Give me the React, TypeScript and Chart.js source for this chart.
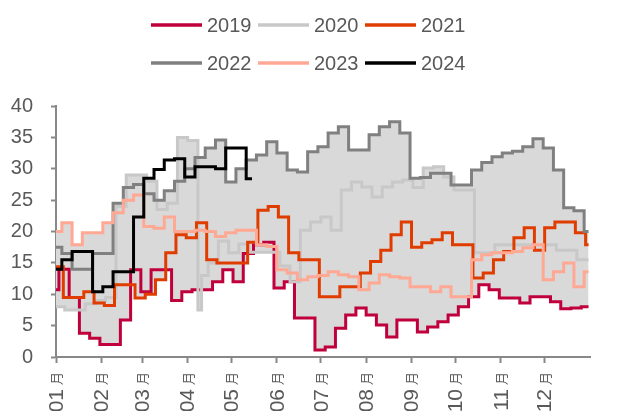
import React, { useEffect, useRef } from "react";
import { Chart, registerables } from "chart.js";

Chart.register(...registerables);

// ---------- data ----------
const years = ["2019", "2020", "2021", "2022", "2023", "2024"];
const monthLabels = ["01", "02", "03", "04", "05", "06", "07", "08", "09", "10", "11", "12"];
const monthSuffix = "月";
const monthStartDays = [0, 31, 59, 90, 120, 151, 181, 212, 243, 273, 304, 334];
const yTickValues = [0, 5, 10, 15, 20, 25, 30, 35, 40];

// weekly values (week k starts at firstDay + 7k)
const values2019 = [10.7, 14, 9.5, 3.8, 3, 2, 2, 5.9, 13.9, 10.4, 13.9, 13.9, 9, 10.4, 10.7, 10.7, 12, 13.9, 12, 16.5, 17.9, 18.3, 11, 12, 6.2, 6.2, 1.1, 1.6, 4.6, 6.7, 7.8, 6.7, 5.1, 3.2, 5.9, 5.9, 4, 4.8, 5.6, 6.7, 8, 9.6, 11.5, 10.7, 9.4, 9.4, 8.6, 9.6, 9.6, 8.8, 7.7, 7.8, 8];
const values2020 = [8, 7.5, 7.5, 8.5, 9, 9.5, 24, 29, 29, 28, 23.5, 24.5, 35, 34.5, 13, 15, 18.5, 16.6, 18, 16.7, 16.7, 16.7, 14.5, 12, 20.2, 21.5, 22.3, 20.2, 26.6, 27.9, 27.1, 25.5, 27.1, 27.9, 28.2, 27, 30.1, 30.3, 28.7, 26.6, 26.6, 16.6, 16.6, 17.9, 17.9, 17.9, 17.9, 17.9, 17.9, 17, 17, 15.5, 15.5];
const values2021 = [14.4, 9.5, 9.5, 10.4, 8.6, 8.2, 11.5, 11.5, 9.4, 10, 12.3, 16.6, 19.5, 19, 21.4, 15.5, 15, 15, 15, 18.3, 23.4, 24, 22.3, 16.6, 15.5, 15.5, 9.6, 9.6, 11.2, 11.2, 13.4, 15.2, 17, 19.5, 21.5, 17.5, 18.2, 18.7, 19.8, 17.9, 17.9, 12.6, 13.4, 15.5, 16.8, 19, 20.6, 17, 20.6, 21.5, 21.5, 19.8, 17.9];
const values2022 = [17.5, 16.5, 14, 14, 16.5, 16.5, 24.5, 27, 27.5, 26, 25, 26.5, 28, 30, 31.8, 33.3, 34.6, 27.9, 30, 31.4, 32.2, 34.3, 32.5, 29.8, 29.5, 32.7, 33.5, 35.7, 36.7, 33, 33, 35.4, 36.7, 37.5, 35.7, 28.5, 28.6, 29.3, 29.3, 27.4, 27.4, 29.8, 31, 31.9, 32.5, 32.8, 33.5, 34.8, 33.3, 29.8, 23.8, 23.3, 20];
const values2023 = [20, 21.4, 17.9, 19.8, 19.8, 21.4, 23, 25, 25.8, 20.8, 20.5, 22.3, 20, 20, 20.2, 20, 19.2, 19.8, 20.2, 20.2, 17.9, 17.6, 13.9, 13.4, 12.3, 12.8, 13, 13.6, 13.1, 12.8, 10.7, 11.8, 13.1, 12.8, 12.6, 11.2, 11.2, 10.4, 11.2, 9.6, 9.6, 15.5, 16.3, 16.6, 16.6, 16.8, 17.4, 17.9, 12.3, 13.6, 15, 11.2, 13.6];
const values2024 = [14, 15.5, 16.8, 16.8, 10.4, 11.2, 13.6, 13.6, 22.3, 28.5, 29.9, 31.4, 31.6, 28.7, 30.3, 30.3, 30, 33.3, 33.3, 28.4];

const firstDays = [-5, -1, -2, -3, -3, -3];
const extra2020 = [[97, 7.5], [99.5, 13]];
const endDay = 364;
const endDay2024 = 134;

const colors = ["#C0003C", "#C8C8C8", "#E03C00", "#808080", "#FFA894", "#000000"];
const bandColor = "#D9D9D9";
const textColor = "#595959";
const axisColor = "#888888";

// ---------- helpers ----------
type Pt = { x: number; y: number };

function buildSteps(first: number, vals: number[], end: number, extra: number[][] = []): Pt[] {
  const map = new Map<number, number>();
  vals.forEach((v, k) => map.set(Math.max(0, first + 7 * k), v));
  extra.forEach(([d, v]) => map.set(d, v));
  const days = Array.from(map.keys()).filter((d) => d < end).sort((a, b) => a - b);
  const pts = days.map((d) => ({ x: d, y: map.get(d) as number }));
  pts.push({ x: end, y: pts[pts.length - 1].y });
  return pts;
}

function valueAt(pts: Pt[], d: number): number {
  let v = pts[0].y;
  for (const p of pts) {
    if (p.x <= d) v = p.y;
    else break;
  }
  return v;
}

const allValues = [values2019, values2020, values2021, values2022, values2023, values2024];

export default function App() {
  const ref = useRef<HTMLCanvasElement | null>(null);

  useEffect(() => {
    if (!ref.current) return;
    const series = allValues.map((vals, i) =>
      buildSteps(firstDays[i], vals, i === 5 ? endDay2024 : endDay, i === 1 ? extra2020 : [])
    );
    const bandSeries = series.slice(0, 5);
    const daySet = new Set<number>();
    bandSeries.forEach((s) => s.forEach((p) => daySet.add(p.x)));
    const bandDays = Array.from(daySet).sort((a, b) => a - b);
    const upper = bandDays.map((d) => ({ x: d, y: Math.max(...bandSeries.map((s) => valueAt(s, d))) }));
    const lower = bandDays.map((d) => ({ x: d, y: Math.min(...bandSeries.map((s) => valueAt(s, d))) }));

    const lineSets: any[] = years.map((y, i) => ({
      label: y,
      data: series[i],
      borderColor: colors[i],
      backgroundColor: colors[i],
      borderWidth: 3,
      pointRadius: 0,
      stepped: true,
      fill: false,
      order: 6 - i,
    }));
    const bandSets: any[] = [
      {
        label: "max",
        data: upper,
        borderColor: "rgba(0,0,0,0)",
        borderWidth: 0,
        backgroundColor: bandColor,
        pointRadius: 0,
        stepped: true,
        fill: "+1",
        order: 10,
      },
      {
        label: "min",
        data: lower,
        borderColor: "rgba(0,0,0,0)",
        borderWidth: 0,
        pointRadius: 0,
        stepped: true,
        fill: false,
        order: 11,
      },
    ];

    const decor = {
      id: "decor",
      afterDraw(chart: any) {
        const ctx = chart.ctx as CanvasRenderingContext2D;
        ctx.save();
        // legend
        years.forEach((y, i) => {
          const col = i % 3;
          const row = Math.floor(i / 3);
          const x = 151 + col * 107;
          const yy = 25 + row * 38;
          ctx.strokeStyle = colors[i];
          ctx.lineWidth = 3.5;
          ctx.beginPath();
          ctx.moveTo(x, yy);
          ctx.lineTo(x + 51, yy);
          ctx.stroke();
          ctx.fillStyle = textColor;
          ctx.font = '20px "Liberation Sans", Arial, sans-serif';
          ctx.textAlign = "left";
          ctx.textBaseline = "middle";
          ctx.fillText(y, x + 56, yy + 1);
        });
        // x labels (rotated)
        const xs = chart.scales.x;
        monthStartDays.forEach((d, i) => {
          const px = xs.getPixelForValue(d);
          ctx.save();
          ctx.translate(px, xs.top + 15);
          ctx.rotate(-Math.PI / 2);
          ctx.textAlign = "right";
          ctx.textBaseline = "middle";
          ctx.fillStyle = textColor;
          ctx.font = '13px "Noto Sans CJK SC", sans-serif';
          ctx.fillText(monthSuffix, 0, 0);
          const w = ctx.measureText(monthSuffix).width;
          ctx.font = '21px "Liberation Sans", Arial, sans-serif';
          ctx.fillText(monthLabels[i], -w - 4, 1);
          ctx.restore();
        });
        ctx.restore();
      },
    };

    const chart = new Chart(ref.current, {
      type: "line",
      data: { datasets: [...lineSets, ...bandSets] },
      options: {
        animation: false,
        responsive: false,
        devicePixelRatio: 1,
        layout: { padding: { top: 106, right: 39, left: 0, bottom: 0 } },
        plugins: { legend: { display: false }, tooltip: { enabled: false } },
        scales: {
          x: {
            type: "linear",
            min: 0,
            max: 365,
            afterBuildTicks: (s: any) => {
              s.ticks = monthStartDays.map((v) => ({ value: v }));
            },
            afterFit: (s: any) => {
              s.height = 54;
            },
            ticks: { display: false },
            grid: {
              drawOnChartArea: false,
              drawTicks: true,
              tickLength: 6,
              tickWidth: 2,
              tickColor: axisColor,
            },
            border: { display: true, color: axisColor, width: 2 },
          },
          y: {
            min: 0,
            max: 40,
            afterBuildTicks: (s: any) => {
              s.ticks = yTickValues.map((v) => ({ value: v }));
            },
            afterFit: (s: any) => {
              s.width = 56;
            },
            ticks: {
              color: textColor,
              padding: 18,
              font: { family: '"Liberation Sans", Arial, sans-serif', size: 20 },
            },
            grid: {
              drawOnChartArea: false,
              drawTicks: true,
              tickLength: 5,
              tickWidth: 2,
              tickColor: axisColor,
            },
            border: { display: true, color: axisColor, width: 2 },
          },
        },
      } as any,
      plugins: [decor],
    });
    return () => chart.destroy();
  }, []);

  return (
    <div style={{ position: "fixed", left: 0, top: 0, width: 629, height: 411, background: "#fff" }}>
      <canvas ref={ref} width={629} height={411} style={{ width: 629, height: 411, display: "block" }} />
    </div>
  );
}
